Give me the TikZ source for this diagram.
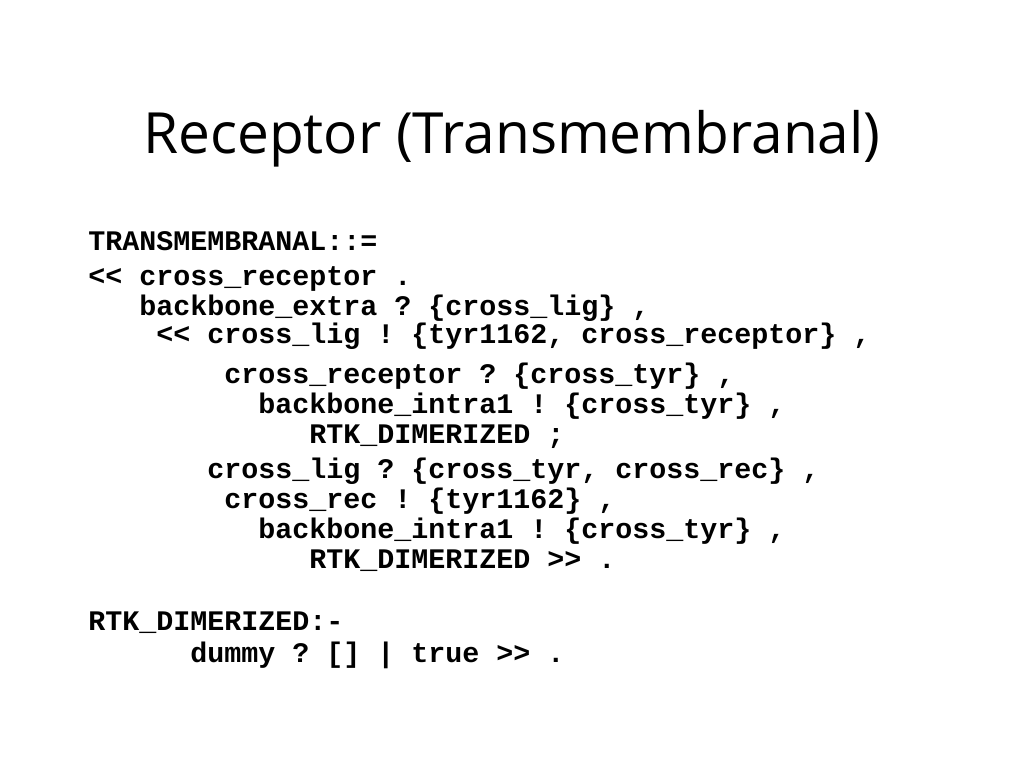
\documentclass[tikz,border=0pt]{standalone}
\usepackage{fontspec}
\setmainfont{Open Sans}
\setmonofont{Liberation Mono}
\newcommand\codefont{\ttfamily\bfseries\fontsize{21.25}{25}\selectfont}
\newcommand\titlefont{\fontsize{42.6}{48}\selectfont}
\begin{document}
\begin{tikzpicture}[x=0.75pt, y=-0.75pt, inner sep=0pt,
	codeline/.style={anchor=base west, font=\codefont}]
	\useasboundingbox (0,0) rectangle (1024,768);
	\def\cw{17} % width of one character
	\def\lx{88}
	\node[anchor=base, font=\titlefont] (title) at (512,153) {Receptor (Transmembranal)};
	% rule TRANSMEMBRANAL
	\node[codeline] (head) at (\lx,250) {TRANSMEMBRANAL::=};
	\node[codeline] (l1) at (\lx,285) {<< cross\_receptor .};
	\node[codeline] (l2) at (\lx+3*\cw,315) {backbone\_extra ? \{cross\_lig\} ,};
	\node[codeline] (l3) at (\lx+4*\cw,343) {<< cross\_lig ! \{tyr1162, cross\_receptor\} ,};
	\node[codeline] (l4) at (\lx+8*\cw,383) {cross\_receptor ? \{cross\_tyr\} ,};
	\node[codeline] (l5) at (\lx+10*\cw,413) {backbone\_intra1 ! \{cross\_tyr\} ,};
	\node[codeline] (l6) at (\lx+13*\cw,443) {RTK\_DIMERIZED ;};
	\node[codeline] (l7) at (\lx+7*\cw,478) {cross\_lig ? \{cross\_tyr, cross\_rec\} ,};
	\node[codeline] (l8) at (\lx+8*\cw,508) {cross\_rec ! \{tyr1162\} ,};
	\node[codeline] (l9) at (\lx+10*\cw,538) {backbone\_intra1 ! \{cross\_tyr\} ,};
	\node[codeline] (l10) at (\lx+13*\cw,568) {RTK\_DIMERIZED >> .};
	% rule RTK_DIMERIZED
	\node[codeline] (rtk) at (\lx,630) {RTK\_DIMERIZED:-};
	\node[codeline] (rtk1) at (\lx+6*\cw,662) {dummy ? [] | true >> .};
\end{tikzpicture}
\end{document}
